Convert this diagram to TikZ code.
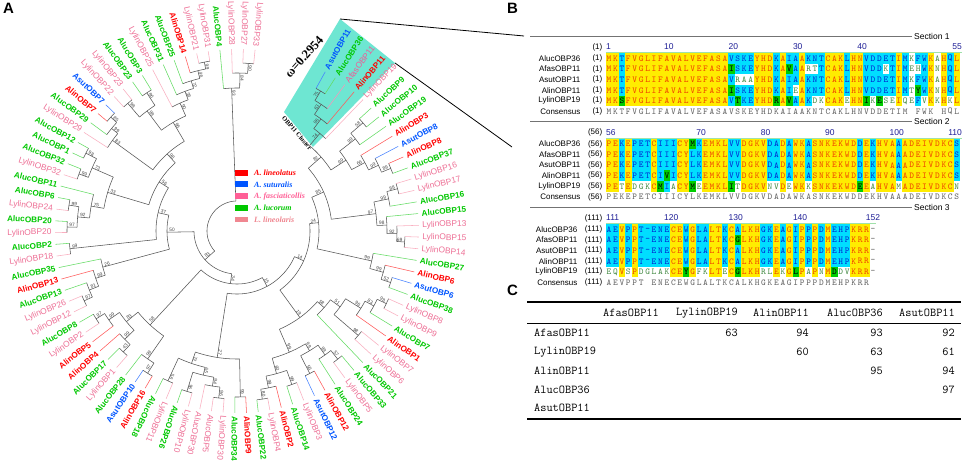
\documentclass[tikz,border=0pt]{standalone}
\usepackage{fontspec}
\newfontfamily\arialf{Liberation Sans}
\newfontfamily\timesf{Liberation Serif}
\definecolor{cli}{RGB}{255,0,0}
\definecolor{lli}{RGB}{255,90,90}
\definecolor{csu}{RGB}{0,85,255}
\definecolor{lsu}{RGB}{70,130,255}
\definecolor{cfa}{RGB}{240,90,150}
\definecolor{lfa}{RGB}{248,150,185}
\definecolor{clu}{RGB}{0,200,0}
\definecolor{llu}{RGB}{100,220,100}
\definecolor{cly}{RGB}{238,112,150}
\definecolor{lly}{RGB}{250,175,192}
\definecolor{treegray}{RGB}{85,85,85}
\definecolor{bsgray}{RGB}{70,70,70}
\definecolor{cyanbox}{RGB}{110,230,210}
\definecolor{bgY}{RGB}{255,236,0}
\definecolor{fgY}{RGB}{240,70,0}
\definecolor{bgC}{RGB}{0,222,255}
\definecolor{fgC}{RGB}{0,40,210}
\definecolor{bgG}{RGB}{0,205,0}
\definecolor{fgG}{RGB}{0,0,0}
\definecolor{fgW}{RGB}{70,140,70}
\definecolor{fgN}{RGB}{100,100,100}
\definecolor{hnum}{RGB}{30,30,150}
\definecolor{rulerc}{RGB}{160,225,170}
\definecolor{legfa}{RGB}{255,95,150}
\definecolor{legly}{RGB}{240,135,145}

\tikzset{
  tl/.style={draw=treegray, line width=0.55pt},
  lab/.style={font=\arialf\fontsize{8.4}{9}\selectfont, inner sep=0.3pt},
  labB/.style={font=\arialf\bfseries\fontsize{8.2}{9}\selectfont, inner sep=0.3pt},
  labli/.style={labB, text=cli}, labsu/.style={labB, text=csu},
  labfa/.style={lab, text=cfa}, lablu/.style={labB, text=clu},
  lably/.style={lab, text=cly},
  bs/.style={font=\arialf\fontsize{4.8}{5}\selectfont, text=bsgray, inner sep=0.2pt},
  celltxt/.style={inner sep=0pt, font=\ttfamily\fontsize{9}{9}\selectfont},
  nmst/.style={anchor=east, font=\arialf\fontsize{8}{9}\selectfont, inner sep=0.5pt},
  hn/.style={anchor=west, font=\arialf\fontsize{8.5}{9}\selectfont, text=hnum, inner sep=0pt},
  secl/.style={draw=black!55, line width=0.6pt},
  sect/.style={anchor=west, font=\arialf\fontsize{8.5}{9}\selectfont, inner sep=1pt},
  tbl/.style={font=\ttfamily\fontsize{12}{12}\selectfont, inner sep=0pt},
  legt/.style={anchor=west, font=\timesf\bfseries\itshape\fontsize{8}{8.5}\selectfont, inner sep=0pt},
  panel/.style={anchor=north west, font=\arialf\bfseries\fontsize{15}{15}\selectfont, inner sep=0pt}
}

% leaf: index, label, species
\newcommand\lf[3]{%
  \pgfmathsetmacro\lfa{61-(#1-1)*3.7}%
  \expandafter\xdef\csname ta:L#1\endcsname{\lfa}%
  \expandafter\xdef\csname tr:L#1\endcsname{182}%
  \expandafter\xdef\csname lc:L#1\endcsname{l#3}%
  \pgfmathparse{cos(\lfa-151.5)}%
  \ifdim\pgfmathresult pt>0pt
    \pgfmathsetmacro\lfb{\lfa+180}%
    \node[lab#3, rotate=\lfb, anchor=east] at (\lfa:185) {#2};%
  \else
    \node[lab#3, rotate=\lfa, anchor=west] at (\lfa:185) {#2};%
  \fi}

% internal node: name, radius, children, bootstrap
\newcommand\nd[4]{%
  \gdef\ndmin{1000}\gdef\ndmax{-1000}\gdef\ndsum{0}\gdef\ndcnt{0}%
  \foreach \chn in {#3}{%
    \edef\ndca{\csname ta:\chn\endcsname}%
    \edef\ndcr{\csname tr:\chn\endcsname}%
    \edef\ndcl{\csname lc:\chn\endcsname}%
    \draw[tl, draw=\ndcl] (\ndca:#2) -- (\ndca:\ndcr);%
    \pgfmathsetmacro\ndt{min(\ndmin,\ndca)}\xdef\ndmin{\ndt}%
    \pgfmathsetmacro\ndt{max(\ndmax,\ndca)}\xdef\ndmax{\ndt}%
    \pgfmathsetmacro\ndt{\ndsum+(\ndca)}\xdef\ndsum{\ndt}%
    \pgfmathsetmacro\ndt{\ndcnt+1}\xdef\ndcnt{\ndt}%
  }%
  \pgfmathsetmacro\ndavg{\ndsum/\ndcnt}%
  \pgfmathtruncatemacro\ndns{abs((\ndmax)-(\ndmin))/1.5+3}%
  \draw[tl] plot[domain=\ndmin:\ndmax, samples=\ndns, variable=\vv] (\vv:#2);%
  \expandafter\xdef\csname ta:#1\endcsname{\ndavg}%
  \expandafter\xdef\csname tr:#1\endcsname{#2}%
  \expandafter\xdef\csname lc:#1\endcsname{treegray}%
  \ifx\relax#4\relax\else
    \pgfmathsetmacro\bsr{#2-2}%
    \pgfmathparse{cos(\ndavg-151.5)}%
    \ifdim\pgfmathresult pt>0pt
      \pgfmathsetmacro\bsa{\ndavg+180}%
      \node[bs, rotate=\bsa, anchor=south west] at (\ndavg:\bsr) {#4};%
    \else
      \node[bs, rotate=\ndavg, anchor=south east] at (\ndavg:\bsr) {#4};%
    \fi
  \fi}

% alignment cells
\def\alcbg#1{\fill[#1] (\alx-3.25,\aly-5.35) rectangle (\alx+3.25,\aly+5.35);}
\def\alcY#1{\alcbg{bgY}\node[celltxt,text=fgY] at (\alx,\aly) {#1};}
\def\alcC#1{\alcbg{bgC}\node[celltxt,text=fgC] at (\alx,\aly) {#1};}
\def\alcG#1{\alcbg{bgG}\node[celltxt,text=fgG] at (\alx,\aly) {#1};}
\def\alcW#1{\node[celltxt,text=fgW] at (\alx,\aly) {#1};}
\def\alcN#1{\if.#1\else\node[celltxt,text=fgN] at (\alx,\aly) {#1};\fi}
\def\alwalk#1#2\relax#3#4\relax{%
  \csname alc#3\endcsname{#1}%
  \pgfmathsetmacro\alx{\alx+6.44}%
  \ifx\relax#2\relax\else\alwalk#2\relax#4\relax\fi}
\def\conwalk#1#2\relax{%
  \alcN{#1}%
  \pgfmathsetmacro\alx{\alx+6.44}%
  \ifx\relax#2\relax\else\conwalk#2\relax\fi}
\newcommand\alrow[3]{\def\aly{#1}\def\alx{609}\alwalk#2\relax#3\relax}
\newcommand\conrow[2]{\def\aly{#1}\def\alx{609}\conwalk#2\relax}

\begin{document}
\begin{tikzpicture}[x=1pt,y=-1pt]
\useasboundingbox (0,0) rectangle (964,465);
\fill[white] (0,0) rectangle (964,465);

% ---------- Panel A ----------
\node[panel] (pA) at (3,3) {A};
\fill[cyanbox] (340,19) -- (395,63) -- (313,147) -- (284,112) -- cycle;

\begin{scope}[shift={(237,231)}, yscale=-1]
\lf{1}{AsutOBP11}{su}
\lf{2}{AlucOBP36}{lu}
\lf{3}{AfasOBP11}{fa}
\lf{4}{AlinOBP11}{li}
\lf{5}{LylinOBP19}{ly}
\lf{6}{AlucOBP9}{lu}
\lf{7}{AlucOBP10}{lu}
\lf{8}{AlucOBP19}{lu}
\lf{9}{AlinOBP3}{li}
\lf{10}{AsutOBP8}{su}
\lf{11}{AlinOBP8}{li}
\lf{12}{AlucOBP37}{lu}
\lf{13}{LylinOBP16}{ly}
\lf{14}{LylinOBP17}{ly}
\lf{15}{AlucOBP16}{lu}
\lf{16}{AlucOBP15}{lu}
\lf{17}{LylinOBP13}{ly}
\lf{18}{LylinOBP15}{ly}
\lf{19}{LylinOBP14}{ly}
\lf{20}{AlucOBP27}{lu}
\lf{21}{AlinOBP6}{li}
\lf{22}{AsutOBP6}{su}
\lf{23}{AlucOBP38}{lu}
\lf{24}{LylinOBP8}{ly}
\lf{25}{LylinOBP9}{ly}
\lf{26}{AlucOBP7}{lu}
\lf{27}{AlinOBP1}{li}
\lf{28}{LylinOBP7}{ly}
\lf{29}{LylinOBP6}{ly}
\lf{30}{AlucOBP21}{lu}
\lf{31}{AlucOBP33}{lu}
\lf{32}{LylinOBP5}{ly}
\lf{33}{AlucOBP24}{lu}
\lf{34}{AlinOBP12}{li}
\lf{35}{AsutOBP12}{su}
\lf{36}{LylinOBP3}{ly}
\lf{37}{AlucOBP14}{lu}
\lf{38}{AlinOBP2}{li}
\lf{39}{LylinOBP4}{ly}
\lf{40}{AlucOBP22}{lu}
\lf{41}{AlinOBP9}{li}
\lf{42}{AlucOBP34}{lu}
\lf{43}{LylinOBP30}{ly}
\lf{44}{AlucOBP5}{ly}
\lf{45}{AlucOBP30}{ly}
\lf{46}{LylinOBP10}{ly}
\lf{47}{AlucOBP26}{lu}
\lf{48}{LylinOBP11}{ly}
\lf{49}{AlucOBP18}{lu}
\lf{50}{AlinOBP16}{li}
\lf{51}{AsutOBP10}{su}
\lf{52}{AlucOBP28}{lu}
\lf{53}{LylinOBP1}{ly}
\lf{54}{AlucOBP17}{lu}
\lf{55}{AlinOBP4}{li}
\lf{56}{AlinOBP5}{li}
\lf{57}{LylinOBP2}{ly}
\lf{58}{AlucOBP8}{lu}
\lf{59}{LylinOBP12}{ly}
\lf{60}{LylinOBP26}{ly}
\lf{61}{AlucOBP13}{lu}
\lf{62}{AlinOBP13}{li}
\lf{63}{AlucOBP35}{lu}
\lf{64}{LylinOBP18}{ly}
\lf{65}{AlucOBP2}{lu}
\lf{66}{LylinOBP20}{ly}
\lf{67}{AlucOBP20}{lu}
\lf{68}{LylinOBP24}{ly}
\lf{69}{AlucOBP6}{lu}
\lf{70}{AlucOBP11}{lu}
\lf{71}{LylinOBP32}{ly}
\lf{72}{AlucOBP32}{lu}
\lf{73}{AlucOBP1}{lu}
\lf{74}{AlucOBP12}{lu}
\lf{75}{LylinOBP29}{ly}
\lf{76}{AlucOBP29}{lu}
\lf{77}{AlinOBP7}{li}
\lf{78}{AsutOBP7}{su}
\lf{79}{LylinOBP22}{ly}
\lf{80}{LylinOBP23}{ly}
\lf{81}{AlucOBP23}{lu}
\lf{82}{AlucOBP3}{lu}
\lf{83}{LylinOBP25}{ly}
\lf{84}{AlucOBP31}{lu}
\lf{85}{AlucOBP25}{lu}
\lf{86}{AlinOBP14}{li}
\lf{87}{LylinOBP21}{ly}
\lf{88}{LylinOBP31}{ly}
\lf{89}{AlucOBP4}{lu}
\lf{90}{LylinOBP28}{ly}
\lf{91}{LylinOBP27}{ly}
\lf{92}{LylinOBP33}{ly}
% G1
\nd{c1}{163}{L1,L2}{75}
\nd{c2}{152}{c1,L3}{63}
\nd{c3}{140}{c2,L4}{96}
\nd{c4}{128}{c3,L5}{74}
\nd{d1}{166}{L6,L7}{58}
\nd{d2}{150}{d1,L8}{99}
\nd{e1}{166}{L11,L12}{89}
\nd{e2}{156}{L10,e1}{99}
\nd{e3}{145}{L9,e2}{66}
\nd{d3}{130}{d2,e3}{99}
\nd{h1}{112}{c4,d3}{82}
\nd{f1}{166}{L13,L14}{88}
\nd{f2}{155}{f1,L15}{99}
\nd{g1}{168}{L18,L19}{69}
\nd{g2}{160}{L17,g1}{92}
\nd{g3}{150}{L16,g2}{98}
\nd{f3}{140}{f2,g3}{97}
\nd{h2}{95}{h1,f3}{85}
% G2
\nd{i1}{162}{L22,L23}{52}
\nd{i2}{152}{L21,i1}{99}
\nd{i3}{138}{L20,i2}{99}
\nd{h3}{82}{h2,i3}{24}
% G3
\nd{j1}{166}{L24,L25}{98}
\nd{j2}{156}{j1,L26}{83}
\nd{j3}{146}{j2,L27}{96}
\nd{k1}{160}{L28,L29}{98}
\nd{k2}{128}{j3,k1}{51}
\nd{m1}{116}{k2,L30}{58}
\nd{n1}{163}{L31,L32}{57}
\nd{n2}{152}{n1,L33}{99}
\nd{p1}{160}{L34,L35}{56}
\nd{p2}{140}{n2,p1}{99}
\nd{q1}{163}{L36,L37}{99}
\nd{q0}{170}{L39,L40}{80}
\nd{q2}{160}{L38,q0}{99}
\nd{q3}{148}{q2,q1}{60}
\nd{p3}{132}{q3,p2}{99}
\nd{G3}{107}{m1,p3}{19}
% G4
\nd{s1}{166}{L41,L42}{99}
\nd{t1}{168}{L43,L44}{96}
\nd{t2}{157}{t1,L45}{94}
\nd{t3}{168}{L46,L47}{96}
\nd{t4}{148}{t2,t3}{65}
\nd{t5}{165}{L48,L49}{56}
\nd{t6}{140}{t4,t5}{72}
\nd{G4}{128}{s1,t6}{27}
% G5
\nd{u1}{168}{L50,L51}{97}
\nd{u2}{156}{u1,L52}{99}
\nd{v1}{166}{L53,L54}{43}
\nd{v2}{156}{v1,L55}{99}
\nd{w1}{166}{L57,L58}{97}
\nd{w2}{156}{L56,w1}{99}
\nd{x1}{143}{v2,w2}{83}
\nd{G5}{128}{u2,x1}{58}
% G6, G7
\nd{y1}{168}{L59,L60}{97}
\nd{y2}{159}{y1,L61}{81}
\nd{y3}{149}{y2,L62}{99}
\nd{G6}{139}{y3,L63}{26}
\nd{G7}{168}{L64,L65}{99}
% G8
\nd{aa1}{170}{L66,L67}{97}
\nd{aa2}{170}{L68,L69}{99}
\nd{aa3}{160}{aa1,aa2}{92}
\nd{aa4}{148}{aa3,L70}{75}
\nd{bb1}{168}{L71,L72}{99}
\nd{bb2}{170}{L73,L74}{98}
\nd{bb3}{158}{bb1,bb2}{73}
\nd{G8}{135}{aa4,bb3}{33}
% G9
\nd{cc1}{170}{L77,L78}{85}
\nd{cc2}{162}{L76,cc1}{99}
\nd{cc3}{154}{L75,cc2}{83}
\nd{dd1}{168}{L79,L80}{98}
\nd{ee1}{165}{L81,L82}{86}
\nd{dd2}{150}{dd1,ee1}{98}
\nd{ff1}{172}{L87,L88}{99}
\nd{ff2}{165}{L86,ff1}{46}
\nd{ff3}{157}{L85,ff2}{72}
\nd{ff4}{149}{L84,ff3}{38}
\nd{ff5}{140}{L83,ff4}{90}
\nd{ff6}{126}{dd2,ff5}{96}
\nd{G9}{104}{cc3,ff6}{98}
% G10
\nd{z0}{168}{L91,L92}{90}
\nd{z1}{158}{L90,z0}{84}
\nd{G10}{143}{L89,z1}{93}
% backbone
\nd{P1}{92}{G9,G8}{56}
\nd{P2}{81}{P1,G7}{37}
\nd{P3}{70}{P2,G6}{50}
\nd{A4}{73}{G3,h3}{14}
\nd{A3}{63}{G4,A4}{15}
\nd{A2}{53}{G5,A3}{34}
\nd{A1}{43}{P3,A2}{83}
\nd{root}{30}{A1,G10}{}
\end{scope}

\node[font=\timesf\bfseries\fontsize{12.5}{13}\selectfont, rotate=48, inner sep=0pt] (omega) at (304,57) {ω=0.2954};
\node[font=\timesf\bfseries\fontsize{6.5}{7}\selectfont, rotate=-49, inner sep=0pt] (clus) at (297,133) {OBP11 Cluster};

% legend
\foreach \i/\cc/\tt in {0/cli/{A. lineolatus},1/csu/{A. suturalis},2/legfa/{A. fasciaticollis},3/clu/{A. lucorum},4/legly/{L. lineolaris}}{
  \fill[\cc] (235,{169.8+11.7*\i}) rectangle (248,{175.6+11.7*\i});
  \node[legt, text=\cc] at (254,{172.7+11.7*\i}) {\tt};
}

% zoom lines
\coordinate (zt) at (340,19);
\coordinate (zr) at (395,63);
\coordinate (zb1) at (524,36);
\coordinate (zb2) at (512,147);
\draw[black, line width=0.8pt] (zt) -- (zb1);
\draw[black, line width=0.8pt] (zr) -- (zb2);

% ---------- Panel B ----------
\node[panel] (pB) at (507,3) {B};

% Section 1
\draw[secl] (530,36) -- (912,36);
\node[sect] at (913,36) {Section 1};
\draw[rulerc, line width=0.9pt] (606,52.8) -- (962,52.8);
\node[nmst] at (603,47) {(1)};
\node[hn] at (606,47) {1};
\node[hn] at (664,47) {10};
\node[hn] at (728.4,47) {20};
\node[hn] at (792.8,47) {30};
\node[hn] at (857.2,47) {40};
\node[hn, anchor=east] at (962,47) {55};
\foreach \nm [count=\i from 0] in {AlucOBP36,AfasOBP11,AsutOBP11,AlinOBP11,LylinOBP19,Consensus}{
  \node[nmst] at (581,{58.5+10.6*\i}) {\nm};
  \node[nmst] at (603,{58.5+10.6*\i}) {(1)};
}
\alrow{58.5}{MKTFVGLIFAVALVEFASAVSKEYHDKAIAAKNTCAKLHNVDDETIMKFWKAHQL}{YYCYYYYYYYYYYYYYYYYCCCCYYYCYCCYCCCYYYCYYCCCCCYCWCCYWYCY}
\alrow{69.1}{MKTFVGLIFAVALVEFASAISKEYHDKAVAARTTCAKLHNVDDKTIMEHWKNHQL}{YYCYYYYYYYYYYYYYYYYGCCCYYYCYGCYWWCYYYCYYCCCWCYCWWCYWYCY}
\alrow{79.7}{MKTFVGLIFAVALVEFASAVRAAYHDKAIAAKNTCAKLHNVDDETIMKFWKAHQL}{YYCYYYYYYYYYYYYYYYYCWWWYYYCYCCYCCCYYYCYYCCCCCYCWCCYWYCY}
\alrow{90.3}{MKTFVGLIFAVALVEFASAISKEYHDKAIEAKNTCAKLHNVDDETIMTYWKNHQL}{YYCYYYYYYYYYYYYYYYYGCCCYYYCYCWYCCCYYYCYYCCCCCYCWGCYWYCY}
\alrow{100.9}{MKSFVGLIFAVALVEFASAVTKEYHDRAVAAKDKCAKEHNIKESEIQEFVKKHKL}{YYGYYYYYYYYYYYYYYYYCGCCYYYGYGCYCWWYYYWYYGWGWWYWWCWYWYWY}
\conrow{111.5}{MKTFVGLIFAVALVEFASAVSKEYHDKAIAAKNTCAKLHNVDDETIM.FWK.HQL}

% Section 2
\draw[secl] (530,121.5) -- (912,121.5);
\node[sect] at (913,121.5) {Section 2};
\draw[rulerc, line width=0.9pt] (606,138.3) -- (962,138.3);
\node[nmst] at (603,132.5) {(56)};
\node[hn] at (606,132.5) {56};
\node[hn] at (696.2,132.5) {70};
\node[hn] at (760.6,132.5) {80};
\node[hn] at (825,132.5) {90};
\node[hn] at (889.4,132.5) {100};
\node[hn, anchor=east] at (962,132.5) {110};
\foreach \nm [count=\i from 0] in {AlucOBP36,AfasOBP11,AsutOBP11,AlinOBP11,LylinOBP19,Consensus}{
  \node[nmst] at (581,{144+10.6*\i}) {\nm};
  \node[nmst] at (603,{144+10.6*\i}) {(56)};
}
\alrow{144}{PEKEPETCIIICYMKEMKLVVDGKVDADAWKASNKEKWDDEKHVAAADEIVDKCS}{YYCYCCCYCCCYYGCYYYYCCYYYYCCYCYYCYYYYYYYCYCYYYCYYYYYYYYC}
\alrow{154.6}{PEKEPETCIIICYLKEMKLVVDGKVDADAWKASNKEKWDDEKHVAAADEIVDKCS}{YYCYCCCYCCCYYCCYYYYCCYYYYCCYCYYCYYYYYYYCYCYYYCYYYYYYYYC}
\alrow{165.2}{PEKEPETCIIICYLKEMKLVVDGKVDADAWKASNKEKWDDEKHVAAADEIVDKCS}{YYCYCCCYCCCYYCCYYYYCCYYYYCCYCYYCYYYYYYYCYCYYYCYYYYYYYYC}
\alrow{175.8}{PEKEPETCIVICYLKEMKLVVDGKVDADAWKASNKEKWDDEKHVAAADEIVDKCS}{YYCYCCCYCGCYYCCYYYYCCYYYYCCYCYYCYYYYYYYCYCYYYCYYYYYYYYC}
\alrow{186.4}{PETEDGKCMIACYMEEMKLITDGKVNVDEWKKSNKEKWDEEAHVAMADEIVDKCN}{YYWYWWWYGCWYYGWYYYYGWYYYYWWYWYYWYYYYYYYGYWYYYWYYYYYYYYW}
\conrow{197}{PEKEPETCIIICYLKEMKLVVDGKVDADAWKASNKEKWDDEKHVAAADEIVDKCS}

% Section 3
\draw[secl] (530,207) -- (912,207);
\node[sect] at (913,207) {Section 3};
\draw[rulerc, line width=0.9pt] (606,223.8) -- (876,223.8);
\node[nmst] at (603,218) {(111)};
\node[hn] at (606,218) {111};
\node[hn] at (664,218) {120};
\node[hn] at (728.4,218) {130};
\node[hn] at (792.8,218) {140};
\node[hn, anchor=center] at (873,218) {152};
\foreach \nm [count=\i from 0] in {AlucOBP36,AfasOBP11,AsutOBP11,AlinOBP11,LylinOBP19,Consensus}{
  \node[nmst] at (578,{229.5+10.6*\i}) {\nm};
  \node[nmst] at (603,{229.5+10.6*\i}) {(111)};
}
\alrow{229.5}{AEVPPT-ENECEWGLALTKCALKHGKEAGIPPPDMEHPKRR-}{CCYCYCCCCCYYCYCCYYCYCYYYCCYCYCYCYCYCCCYYYN}
\alrow{240.1}{AEVPPT-ENECEWGLALTKCGLKHGKEAGIPPPDMEHPKRR-}{CCYCYCCCCCYYCYCCYYCYGYYYCCYCYCYCYCYCCCYYYN}
\alrow{250.7}{AEVPPT-ENECEWGLALTKCALKHGKEAGIPPPDMEHPKRR-}{CCYCYCCCCCYYCYCCYYCYCYYYCCYCYCYCYCYCCCYYYN}
\alrow{261.3}{AEVPPT-ENECEWGLALTKCALKHGKEAGIPPPDMEHPKRR-}{CCYCYCCCCCYYCYCCYYCYCYYYCCYCYCYCYCYCCCYYYN}
\alrow{271.9}{EQVSPDGLAKCEYGFKLTECGLKHRLEKGLPAPNMDDVKRR-}{WWYWYWWWWWYYGYWWYYWYGYYYWWYWYGYWYWYGWWYYYN}
\conrow{282.5}{AEVPPT.ENECEWGLALTKCALKHGKEAGIPPPDMEHPKRR.}

% ---------- Panel C ----------
\node[panel] (pC) at (507,285) {C};
\draw[line width=1.3pt] (527,302) -- (961,302);
\draw[line width=0.6pt] (527,323) -- (961,323);
\draw[line width=1.3pt] (527,419) -- (961,419);
\foreach \h/\xx in {AfasOBP11/659,LylinOBP19/738,AlinOBP11/809,AlucOBP36/883,AsutOBP11/955}{
  \node[tbl, anchor=east] at (\xx,313) {\h};
}
\foreach \r/\yy in {AfasOBP11/333,LylinOBP19/352,AlinOBP11/371,AlucOBP36/390,AsutOBP11/408}{
  \node[tbl, anchor=west] at (534,\yy) {\r};
}
\foreach \v/\xx/\yy in {63/738/333,94/809/333,93/883/333,92/955/333,60/809/352,63/883/352,61/955/352,95/883/371,94/955/371,97/955/390}{
  \node[tbl, anchor=east] at (\xx,\yy) {\v};
}
\end{tikzpicture}
\end{document}
